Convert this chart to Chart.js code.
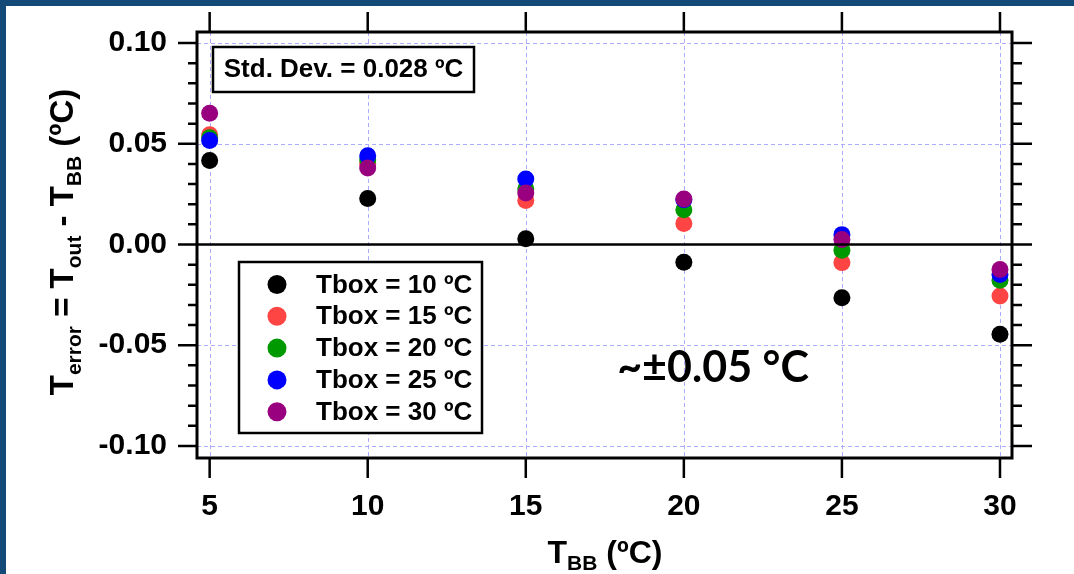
<!DOCTYPE html>
<html><head><meta charset="utf-8">
<script src="https://cdn.jsdelivr.net/npm/chart.js@4.4.1/dist/chart.umd.min.js"></script>
<style>html,body{margin:0;padding:0;background:#144a78;overflow:hidden}#wrap{width:1074px;height:574px;position:relative}</style>
</head><body><div id="wrap"><canvas id="c" width="1074" height="574"></canvas></div>
<script>
const xValues = [5, 10, 15, 20, 25, 30];
const seriesLabels = ['Tbox = 10 ºC', 'Tbox = 15 ºC', 'Tbox = 20 ºC', 'Tbox = 25 ºC', 'Tbox = 30 ºC'];
const seriesColors = ['#000000', '#ff4444', '#009900', '#0000ff', '#990080'];
const tbox10 = [0.0417, 0.0228, 0.0028, -0.0088, -0.0264, -0.0446];
const tbox15 = [0.0545, 0.0400, 0.0219, 0.0104, -0.0090, -0.0256];
const tbox20 = [0.0530, 0.0420, 0.0277, 0.0173, -0.0028, -0.0178];
const tbox25 = [0.0516, 0.0440, 0.0325, 0.0222, 0.0049, -0.0149];
const tbox30 = [0.0652, 0.0380, 0.0256, 0.0226, 0.0025, -0.0124];
const xTicks = [5, 10, 15, 20, 25, 30];
const yTicks = [0.10, 0.05, 0.00, -0.05, -0.10];
const yTickLabels = ['0.10', '0.05', '0.00', '-0.05', '-0.10'];
const yMinorTicks = [0.09, 0.08, 0.07, 0.06, 0.04, 0.03, 0.02, 0.01, -0.01, -0.02, -0.03, -0.04, -0.06, -0.07, -0.08, -0.09];
const stdText = 'Std. Dev. = 0.028 ºC';
const noteText = '~±0.05 °C';

const allSeries = [tbox10, tbox15, tbox20, tbox25, tbox30];
const datasets = allSeries.map((s, i) => ({
  label: seriesLabels[i],
  data: s.map((v, j) => ({x: xValues[j], y: v})),
  backgroundColor: seriesColors[i],
  borderWidth: 0,
  pointRadius: 8.5,
  pointHoverRadius: 8.5,
  showLine: false,
  order: allSeries.length - i
}));

const FONT = '"Liberation Sans", Arial, sans-serif';
const GRID = 'rgb(172,172,255)';

function drawSubText(ctx, parts, x, y) {
  let cx = x;
  for (const p of parts) {
    ctx.font = 'bold ' + p[1] + 'px ' + FONT;
    ctx.fillText(p[0], cx, y + p[2]);
    cx += ctx.measureText(p[0]).width;
  }
}
function measureParts(ctx, parts) {
  let w = 0;
  for (const p of parts) { ctx.font = 'bold ' + p[1] + 'px ' + FONT; w += ctx.measureText(p[0]).width; }
  return w;
}

const decor = {
  id: 'decor',
  beforeDraw(chart) {
    const ctx = chart.ctx;
    ctx.save();
    ctx.fillStyle = '#144a78';
    ctx.fillRect(0, 0, chart.width, chart.height);
    ctx.fillStyle = '#ffffff';
    ctx.fillRect(6, 6, chart.width - 6, chart.height - 6);
    ctx.restore();
  },
  beforeDatasetsDraw(chart) {
    const ctx = chart.ctx;
    const a = chart.chartArea;
    const xs = chart.scales.x, ys = chart.scales.y;
    ctx.save();
    ctx.strokeStyle = GRID;
    ctx.lineWidth = 1;
    ctx.setLineDash([4, 3]);
    ctx.beginPath();
    for (const v of xTicks) {
      const p = Math.round(xs.getPixelForValue(v)) + 0.5;
      ctx.moveTo(p, a.top); ctx.lineTo(p, a.bottom);
    }
    for (const v of yTicks) {
      const p = Math.round(ys.getPixelForValue(v)) + 0.5;
      ctx.moveTo(a.left, p); ctx.lineTo(a.right, p);
    }
    ctx.stroke();
    ctx.restore();
  },
  afterDraw(chart) {
    const ctx = chart.ctx;
    const a = chart.chartArea;
    const xs = chart.scales.x, ys = chart.scales.y;
    ctx.save();
    ctx.strokeStyle = '#000';
    ctx.lineCap = 'butt';
    ctx.lineWidth = 2.5;
    const y0 = ys.getPixelForValue(0);
    ctx.beginPath(); ctx.moveTo(a.left, y0); ctx.lineTo(a.right, y0); ctx.stroke();
    ctx.beginPath();
    for (const v of yTicks) {
      const p = ys.getPixelForValue(v);
      ctx.moveTo(a.left - 19, p); ctx.lineTo(a.left, p);
      ctx.moveTo(a.right, p); ctx.lineTo(a.right + 20, p);
    }
    for (const v of yMinorTicks) {
      const p = ys.getPixelForValue(v);
      ctx.moveTo(a.left - 9, p); ctx.lineTo(a.left, p);
      ctx.moveTo(a.right, p); ctx.lineTo(a.right + 10, p);
    }
    for (const v of xTicks) {
      const p = xs.getPixelForValue(v);
      ctx.moveTo(p, a.bottom); ctx.lineTo(p, a.bottom + 20);
      ctx.moveTo(p, a.top); ctx.lineTo(p, a.top - 20);
    }
    ctx.stroke();
    ctx.lineWidth = 3;
    ctx.strokeRect(a.left, a.top, a.right - a.left, a.bottom - a.top);

    // std dev box
    ctx.fillStyle = '#fff';
    ctx.fillRect(213, 47, 261, 45);
    ctx.lineWidth = 2.5;
    ctx.strokeRect(213, 47, 261, 45);
    ctx.fillStyle = '#000';
    ctx.font = 'bold 26px ' + FONT;
    ctx.textAlign = 'center';
    ctx.textBaseline = 'middle';
    ctx.fillText(stdText, 343.5, 70);

    // legend box
    ctx.fillStyle = '#fff';
    ctx.fillRect(239, 262, 243, 171);
    ctx.strokeRect(239, 262, 243, 171);
    ctx.textAlign = 'left';
    chart.data.datasets.forEach((ds, i) => {
      const ry = 284.5 + i * 31.8;
      ctx.fillStyle = ds.backgroundColor;
      ctx.beginPath(); ctx.arc(277, ry, 9.5, 0, Math.PI * 2); ctx.fill();
      ctx.fillStyle = '#000';
      ctx.font = 'bold 26px ' + FONT;
      ctx.fillText(ds.label, 316, ry + 1);
    });

    // note
    ctx.font = 'bold 43px Lato, "Open Sans", sans-serif';
    ctx.textAlign = 'center';
    ctx.textBaseline = 'alphabetic';
    ctx.fillStyle = '#000';
    ctx.fillText(noteText, 713, 382);

    // x title
    ctx.textAlign = 'left';
    const xParts = [['T', 32, 0], ['BB', 21, 7], [' (ºC)', 32, 0]];
    const xw = measureParts(ctx, xParts);
    drawSubText(ctx, xParts, 605 - xw / 2, 563);

    // y title
    const yParts = [['T', 33, 0], ['error', 21, 8], [' = T', 33, 0], ['out', 21, 8], [' - T', 33, 0], ['BB', 21, 8], [' (ºC)', 33, 0]];
    const yw = measureParts(ctx, yParts);
    ctx.translate(73, 242);
    ctx.rotate(-Math.PI / 2);
    drawSubText(ctx, yParts, -yw / 2, 0);
    ctx.restore();
  }
};

new Chart(document.getElementById('c'), {
  type: 'scatter',
  data: {datasets},
  options: {
    responsive: false,
    devicePixelRatio: 1,
    animation: false,
    layout: {padding: {left: 0, top: 32, right: 62, bottom: 0}},
    plugins: {legend: {display: false}, tooltip: {enabled: false}},
    scales: {
      x: {
        type: 'linear', min: 4.6, max: 30.38,
        afterBuildTicks: s => { s.ticks = xTicks.map(v => ({value: v})); },
        afterFit: s => { s.height = 116; },
        ticks: {color: '#000', font: {family: FONT, weight: 'bold', size: 30}, padding: 31, maxRotation: 0, autoSkip: false, callback: v => String(v)},
        grid: {drawOnChartArea: false, drawTicks: false},
        border: {display: false}
      },
      y: {
        type: 'linear', min: -0.106, max: 0.1055,
        afterBuildTicks: s => { s.ticks = yTicks.map(v => ({value: v})); },
        afterFit: s => { s.width = 197; },
        ticks: {color: '#000', font: {family: FONT, weight: 'bold', size: 30, lineHeight: 0.05}, padding: 30, autoSkip: false,
          callback: (v) => { const k = yTicks.findIndex(t => Math.abs(t - v) < 1e-9); return k >= 0 ? yTickLabels[k] : ''; }},
        grid: {drawOnChartArea: false, drawTicks: false},
        border: {display: false}
      }
    }
  },
  plugins: [decor]
});
</script></body></html>
